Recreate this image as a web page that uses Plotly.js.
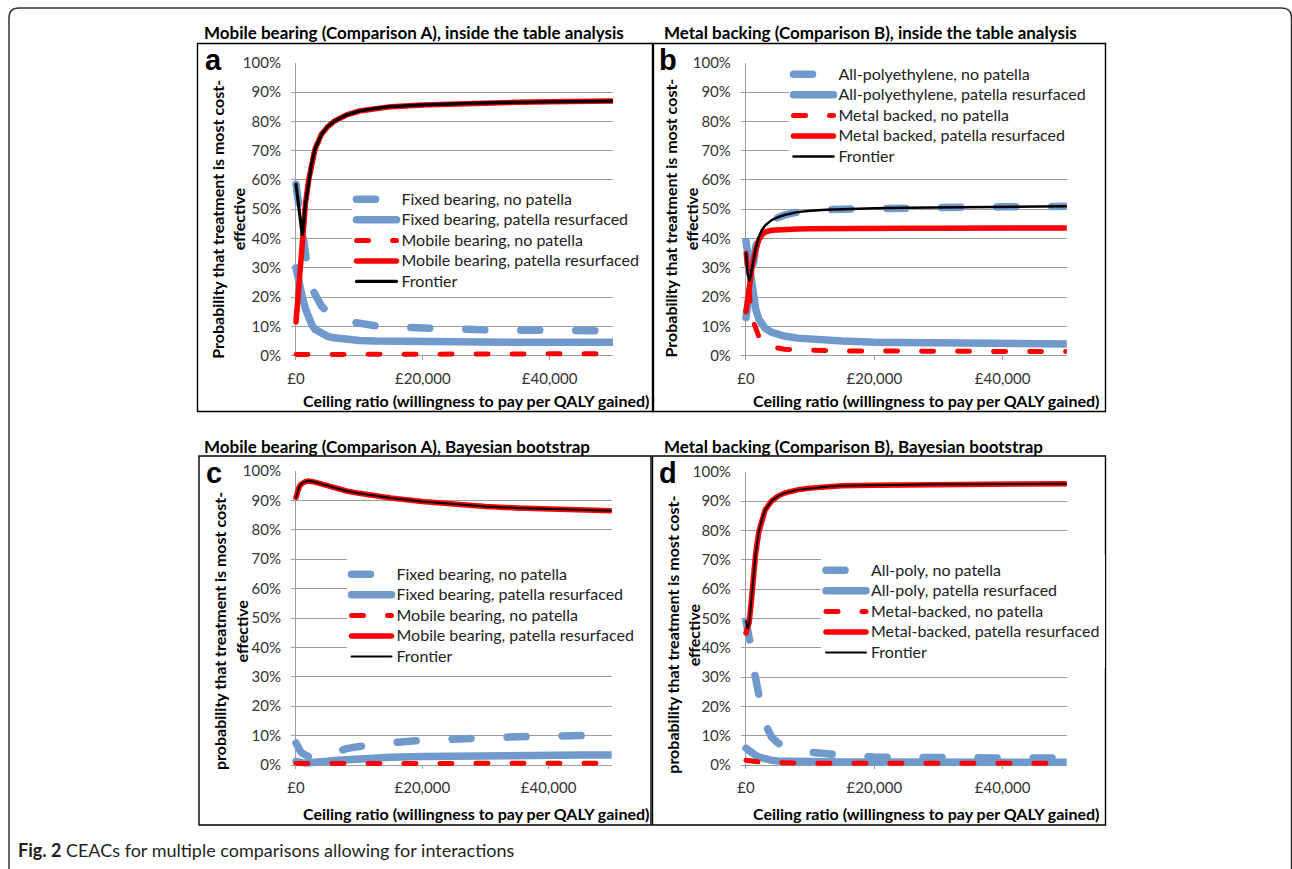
<!DOCTYPE html>
<html><head><meta charset="utf-8">
<script src="https://cdn.plot.ly/plotly-3.0.1.min.js"></script>
<style>
html,body{margin:0;padding:0;background:#fff;}
#chart{width:1292px;height:869px;}
.js-line{stroke-linecap:round;}
</style></head><body><div id="chart"></div>
<script>
// ---- data (probabilities in %) ----
const X = [0, 250, 500, 750, 1000, 1500, 2000, 2500, 3000, 4000, 5000, 6000, 8000, 10000, 12500, 15000, 20000, 25000, 30000, 35000, 40000, 45000, 50000];

// Panel a: Mobile bearing (Comparison A), inside the table analysis
const aFixedNoPatella   = [58.5, 54.3, 50, 45.5, 41, 33.5, 27, 23, 20.5, 17, 14.8, 13.3, 11.8, 10.8, 10.2, 9.8, 9.3, 9.0, 8.8, 8.7, 8.6, 8.5, 8.5];
const aFixedResurfaced  = [30, 27, 24.5, 22, 20, 16, 13, 10.5, 9, 7.5, 6.6, 6.1, 5.5, 5.2, 5.0, 4.9, 4.8, 4.7, 4.7, 4.6, 4.6, 4.6, 4.6];
const aMobileNoPatella  = [0.4, 0.4, 0.4, 0.4, 0.4, 0.4, 0.4, 0.4, 0.4, 0.4, 0.4, 0.4, 0.5, 0.5, 0.5, 0.5, 0.5, 0.6, 0.6, 0.6, 0.7, 0.7, 0.7];
const aMobileResurfaced = [11.5, 19, 27, 34.5, 41, 52, 60, 66, 70.5, 75.5, 78.2, 80, 82.2, 83.5, 84.4, 85, 85.6, 86, 86.3, 86.5, 86.7, 86.8, 86.9];
const aFrontier         = [58.5, 54.3, 50, 45.5, 41, 52, 60, 66, 70.5, 75.5, 78.2, 80, 82.2, 83.5, 84.4, 85, 85.6, 86, 86.3, 86.5, 86.7, 86.8, 86.9];

// Panel b: Metal backing (Comparison B), inside the table analysis
const bPolyNoPatella    = [13, 17.5, 22, 27, 31, 37, 41, 43, 44.5, 46.3, 47.3, 48, 49, 49.5, 49.8, 50, 50.3, 50.5, 50.6, 50.7, 50.8, 50.9, 51];
const bPolyResurfaced   = [39, 35.5, 31, 26, 22, 16, 12.5, 10.5, 9.3, 8, 7.2, 6.7, 6, 5.6, 5.2, 5, 4.6, 4.4, 4.3, 4.2, 4.1, 4.05, 4.0];
const bMetalNoPatella   = [35, 27, 20, 15.5, 12.5, 9, 6.5, 5, 4, 3, 2.5, 2.2, 2, 1.8, 1.7, 1.6, 1.6, 1.5, 1.5, 1.5, 1.4, 1.4, 1.4];
const bMetalResurfaced  = [15, 19, 24, 28, 31, 36, 39.5, 41.3, 42.2, 42.8, 43, 43.1, 43.2, 43.3, 43.4, 43.4, 43.5, 43.5, 43.5, 43.6, 43.6, 43.6, 43.6];
const bFrontier         = [35, 28, 25.5, 27.5, 30.5, 36.5, 40.5, 43, 44.5, 46.3, 47.3, 48, 49, 49.5, 49.8, 50, 50.3, 50.5, 50.6, 50.7, 50.8, 50.9, 51];

// Panel c: Mobile bearing (Comparison A), Bayesian bootstrap
const cFixedNoPatella   = [7.5, 6.2, 5.2, 4.5, 4, 3.2, 2.8, 2.5, 2.4, 2.6, 3.3, 4.3, 5.6, 6.3, 7.0, 7.6, 8.4, 9, 9.4, 9.6, 9.8, 10, 10.2];
const cFixedResurfaced  = [1.2, 1.0, 0.9, 0.8, 0.8, 0.7, 0.7, 0.8, 0.9, 1.1, 1.3, 1.5, 1.8, 2.1, 2.4, 2.6, 2.9, 3.1, 3.2, 3.3, 3.35, 3.4, 3.4];
const cMobileNoPatella  = [0.5, 0.5, 0.5, 0.5, 0.5, 0.5, 0.5, 0.5, 0.5, 0.5, 0.5, 0.5, 0.6, 0.6, 0.6, 0.6, 0.6, 0.6, 0.6, 0.6, 0.6, 0.6, 0.6];
const cMobileResurfaced = [91, 93.3, 94.6, 95.4, 95.9, 96.4, 96.6, 96.5, 96.2, 95.6, 95, 94.3, 93.2, 92.4, 91.5, 90.8, 89.6, 88.7, 87.9, 87.4, 87.1, 86.8, 86.5];
const cFrontier         = [91, 93.3, 94.6, 95.4, 95.9, 96.4, 96.6, 96.5, 96.2, 95.6, 95, 94.3, 93.2, 92.4, 91.5, 90.8, 89.6, 88.7, 87.9, 87.4, 87.1, 86.8, 86.5];

// Panel d: Metal backing (Comparison B), Bayesian bootstrap
const dPolyNoPatella    = [49, 46.5, 44, 40.5, 35, 28.5, 23.5, 18.5, 14, 9.5, 7.5, 6, 4.8, 4.2, 3.7, 3.3, 2.7, 2.5, 2.5, 2.4, 2.4, 2.4, 2.4];
const dPolyResurfaced   = [5.7, 5.2, 4.8, 4.4, 4, 3.3, 2.7, 2.3, 2, 1.6, 1.4, 1.3, 1.2, 1.1, 1.05, 1, 1, 0.95, 0.95, 0.9, 0.9, 0.9, 0.9];
const dMetalNoPatella   = [1.6, 1.5, 1.4, 1.3, 1.2, 1.1, 1, 0.9, 0.9, 0.8, 0.7, 0.7, 0.6, 0.6, 0.6, 0.6, 0.6, 0.6, 0.6, 0.6, 0.6, 0.6, 0.6];
const dMetalResurfaced  = [45, 46.5, 48.5, 54, 62, 72, 79.5, 84, 87, 90, 91.7, 92.7, 93.8, 94.4, 94.9, 95.2, 95.4, 95.5, 95.7, 95.7, 95.8, 95.9, 95.9];
const dFrontier         = [49, 46.5, 48.5, 54, 62, 72, 79.5, 84, 87, 90, 91.7, 92.7, 93.8, 94.4, 94.9, 95.2, 95.4, 95.5, 95.7, 95.7, 95.8, 95.9, 95.9];

// names and ticks
const namesA = ['Fixed bearing, no patella', 'Fixed bearing, patella resurfaced', 'Mobile bearing, no patella', 'Mobile bearing, patella resurfaced', 'Frontier'];
const namesB = ['All-polyethylene, no patella', 'All-polyethylene, patella resurfaced', 'Metal backed, no patella', 'Metal backed, patella resurfaced', 'Frontier'];
const namesD = ['All-poly, no patella', 'All-poly, patella resurfaced', 'Metal-backed, no patella', 'Metal-backed, patella resurfaced', 'Frontier'];
const panelTitles = ['Mobile bearing (Comparison A), inside the table analysis', 'Metal backing (Comparison B), inside the table analysis', 'Mobile bearing (Comparison A), Bayesian bootstrap', 'Metal backing (Comparison B), Bayesian bootstrap'];
const panelLetters = ['a', 'b', 'c', 'd'];
const yTitleLine1 = ['Probability that treatment is most cost-', 'Probability that treatment is most cost-', 'probability that treatment is most cost-', 'probability that treatment is most cost-'];
const yTitleLine2 = 'effective';
const xTitle = 'Ceiling ratio (willingness to pay per QALY gained)';
const xTickVals = [0, 20000, 40000];
const xTickText = ['£0', '£20,000', '£40,000'];
const yTickVals = [0, 10, 20, 30, 40, 50, 60, 70, 80, 90, 100];
const yTickText = ['0%', '10%', '20%', '30%', '40%', '50%', '60%', '70%', '80%', '90%', '100%'];
const caption = '<b>Fig. 2</b> CEACs for multiple comparisons allowing for interactions';

// ---- layout geometry (px) ----
const W = 1292, H = 869;
const fx = p => p / W, fy = p => 1 - p / H;
const XMIN = -800, YMIN = -1.4;
const BLUE = '#7099cc', RED = '#ff0000', GRID = '#9d9d9d';
const FONT = 'Lato, "Open Sans", sans-serif';

const panels = [
  {x0: 296, x1: 613,    y100: 62.7, y0: 355.7, box: [197.5, 43.5, 653.5, 411.5], series: [aFixedNoPatella, aFixedResurfaced, aMobileNoPatella, aMobileResurfaced, aFrontier], names: namesA, fw: 3.2,
   leg: [351.5, 184], title: [201.5, 32.5], letter: [203, 60], yt: [216.7, 238.3, 219], xt: [475.8, 400]},
  {x0: 746, x1: 1066.8, y100: 62.7, y0: 355.7, box: [652.5, 43.5, 1105.5, 411.5], series: [bPolyNoPatella, bPolyResurfaced, bMetalNoPatella, bMetalResurfaced, bFrontier], names: namesB, fw: 2.5,
   leg: [788.5, 59], title: [661.5, 32.5], letter: [657, 60], yt: [670, 691.7, 218.5], xt: [925.8, 400]},
  {x0: 296, x1: 611.7,  y100: 471,  y0: 765,   box: [199, 456, 651, 825], series: [cFixedNoPatella, cFixedResurfaced, cMobileNoPatella, cMobileResurfaced, cFrontier], names: namesA, fw: 2,
   leg: [346.5, 559], title: [201.5, 446], letter: [204, 473], yt: [219, 240.5, 631], xt: [475.8, 813]},
  {x0: 746, x1: 1066.7, y100: 471.7, y0: 765,  box: [652.5, 456, 1105.5, 825], series: [dPolyNoPatella, dPolyResurfaced, dMetalNoPatella, dMetalResurfaced, dFrontier], names: namesD, fw: 2,
   leg: [821, 555], title: [661.5, 446], letter: [657, 473], yt: [671.7, 693.3, 635], xt: [925.8, 813]}
];

const styles = [
  {color: BLUE, width: 7.5, dash: '19px,36px'},
  {color: BLUE, width: 7.5},
  {color: RED, width: 5, dash: '12px,24px'},
  {color: RED, width: 5.5},
  {color: '#000000', width: 3}
];

const traces = [];
const layout = {
  width: W, height: H, margin: {l: 0, r: 0, t: 0, b: 0},
  paper_bgcolor: '#ffffff', plot_bgcolor: 'rgba(0,0,0,0)',
  showlegend: true, annotations: [], shapes: [],
  font: {family: FONT, color: '#222'}
};

panels.forEach((p, i) => {
  const k = i === 0 ? '' : String(i + 1);
  const wpx = p.x1 - p.x0, hpx = p.y0 - p.y100;
  const xa = 'xaxis' + k, ya = 'yaxis' + k, lg = 'legend' + k;
  layout[xa] = {
    domain: [fx(p.x0 - 0.016 * wpx), fx(p.x1)], range: [XMIN, 50000], anchor: 'y' + k,
    showgrid: false, zeroline: true, zerolinecolor: GRID, zerolinewidth: 1, showline: false,
    ticks: 'inside', ticklen: 4, tickcolor: GRID, tickwidth: 1,
    tickvals: xTickVals, ticktext: xTickText, ticklabelstandoff: 8,
    tickfont: {family: FONT, size: 15, color: '#333'}, fixedrange: true
  };
  layout[ya] = {
    domain: [fy(p.y0 + 0.014 * hpx), fy(p.y100)], range: [YMIN, 100], anchor: 'x' + k,
    showgrid: true, gridcolor: GRID, gridwidth: 1, zeroline: true, zerolinecolor: GRID, zerolinewidth: 1,
    showline: false, ticks: '', tickvals: yTickVals, ticktext: yTickText, ticklabelstandoff: 9,
    tickfont: {family: FONT, size: 15, color: '#333'}, fixedrange: true
  };
  layout[lg] = {
    x: fx(p.leg[0]), y: fy(p.leg[1]), xanchor: 'left', yanchor: 'top', xref: 'paper', yref: 'paper',
    bgcolor: '#ffffff', borderwidth: 0, itemwidth: 40, tracegroupgap: 0, traceorder: 'normal',
    font: {family: FONT, size: 13.5, color: '#222'}
  };
  p.series.forEach((s, j) => {
    const ln = Object.assign({}, styles[j]);
    if (j === 4) ln.width = p.fw;
    traces.push({
      type: 'scatter', mode: 'lines', x: X, y: s,
      name: '<span style="font-size:16px">' + p.names[j] + '</span>',
      xaxis: 'x' + k, yaxis: 'y' + k, legend: lg, line: ln, hoverinfo: 'skip'
    });
  });
  // box
  layout.shapes.push({type: 'rect', xref: 'paper', yref: 'paper',
    x0: fx(p.box[0]), x1: fx(p.box[2]), y0: fy(p.box[3]), y1: fy(p.box[1]),
    line: {color: '#000', width: 1.4}, fillcolor: 'rgba(0,0,0,0)', layer: 'above'});
  // title
  layout.annotations.push({text: panelTitles[i], xref: 'paper', yref: 'paper', x: fx(p.title[0]), y: fy(p.title[1]),
    xanchor: 'left', yanchor: 'middle', showarrow: false, font: {family: FONT, size: 17, color: '#000', weight: 'bold'}});
  // letter
  layout.annotations.push({text: panelLetters[i], xref: 'paper', yref: 'paper', x: fx(p.letter[0]), y: fy(p.letter[1]),
    xanchor: 'left', yanchor: 'middle', showarrow: false, font: {family: '"Liberation Sans", Arial, sans-serif', size: 29, color: '#000', weight: 'bold'}});
  // y title (two lines)
  layout.annotations.push({text: yTitleLine1[i], xref: 'paper', yref: 'paper', x: fx(p.yt[0]), y: fy(p.yt[2]),
    xanchor: 'center', yanchor: 'middle', textangle: -90, showarrow: false, font: {family: FONT, size: 16, color: '#000', weight: 'bold'}});
  layout.annotations.push({text: yTitleLine2, xref: 'paper', yref: 'paper', x: fx(p.yt[1]), y: fy(p.yt[2]),
    xanchor: 'center', yanchor: 'middle', textangle: -90, showarrow: false, font: {family: FONT, size: 16, color: '#000', weight: 'bold'}});
  // x title
  layout.annotations.push({text: xTitle, xref: 'paper', yref: 'paper', x: fx(p.xt[0]), y: fy(p.xt[1]),
    xanchor: 'center', yanchor: 'middle', showarrow: false, font: {family: FONT, size: 16, color: '#000', weight: 'bold'}});
});

// caption
layout.annotations.push({text: caption, xref: 'paper', yref: 'paper', x: fx(16), y: fy(850),
  xanchor: 'left', yanchor: 'middle', showarrow: false, font: {family: FONT, size: 18, color: '#231f20'}});

// outer rounded frame
const P = (x, y) => fx(x) + ',' + fy(y);
const L = 9, T = 8, R = 1291.5, B = 874, r = 10;
layout.shapes.push({type: 'path', xref: 'paper', yref: 'paper',
  path: 'M' + P(L, B) + ' L' + P(L, T + r) + ' Q' + P(L, T) + ' ' + P(L + r, T) + ' L' + P(R - r, T) + ' Q' + P(R, T) + ' ' + P(R, T + r) + ' L' + P(R, B),
  line: {color: '#333', width: 1.5}, fillcolor: 'rgba(0,0,0,0)'});

Plotly.newPlot('chart', traces, layout, {staticPlot: true, displayModeBar: false});
</script></body></html>
